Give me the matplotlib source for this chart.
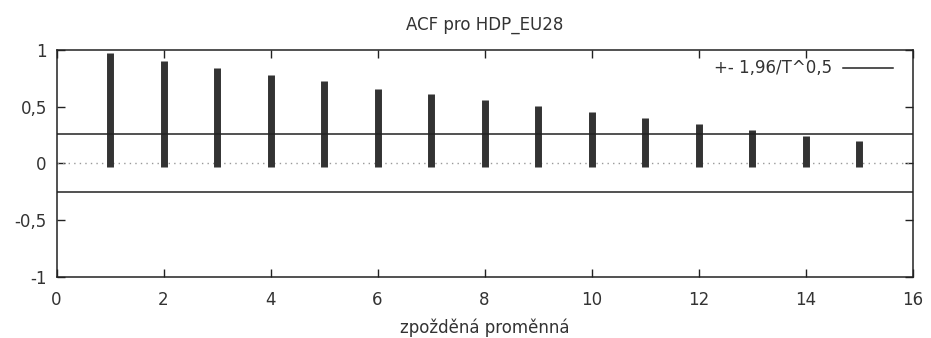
import matplotlib.pyplot as plt
import numpy as np

# hodnoty ACF
lags = [1, 2, 3, 4, 5, 6, 7, 8, 9, 10, 11, 12, 13, 14, 15]
acf_values = [0.976, 0.906, 0.842, 0.778, 0.725, 0.66, 0.608, 0.555,
              0.503, 0.45, 0.397, 0.345, 0.292, 0.237, 0.199]
conf_band = 0.257
x_ticks = [0, 2, 4, 6, 8, 10, 12, 14, 16]
y_ticks = [-1, -0.5, 0, 0.5, 1]
y_tick_labels = ['-1', '-0,5', '0', '0,5', '1']

plt.rcParams['font.family'] = ['DejaVu Sans']
plt.rcParams['font.size'] = 12

fig = plt.figure(figsize=(9.31, 3.38), dpi=100)
ax = fig.add_axes([0.0607, 0.1814, 0.9196, 0.6706])

# nulova cara (teckovana)
ax.plot([0, 16], [0, 0], color='#999999', linestyle=(0, (1, 3)), linewidth=1)

# sloupce ACF
ax.vlines(lags, -0.03, acf_values, color='#333333', linewidth=5.0)

# pasmo spolehlivosti
ax.axhline(conf_band, color='#222222', linewidth=1.1, label='+- 1,96/T^0,5')
ax.axhline(-conf_band, color='#222222', linewidth=1.1)

ax.set_xlim(0, 16)
ax.set_ylim(-1, 1)
ax.set_xticks(x_ticks)
ax.set_yticks(y_ticks)
ax.set_yticklabels(y_tick_labels)
ax.tick_params(direction='in', length=6, width=1, top=True, right=True,
               colors='#222222', labelcolor='#333333', labelsize=12)
ax.tick_params(axis='x', pad=10.5)
ax.tick_params(axis='y', pad=7)
for s in ax.spines.values():
    s.set_linewidth(1.1)
    s.set_color('#222222')

ax.set_title('ACF pro HDP_EU28', fontsize=12, color='#333333', pad=14.5)
ax.set_xlabel('zpožděná proměnná', fontsize=12, color='#333333', labelpad=7)

leg = ax.legend(loc='center right', bbox_to_anchor=(0.9766, 0.919),
                frameon=False, markerfirst=False, borderpad=0, borderaxespad=0,
                handlelength=3.0, handletextpad=0.65, fontsize=12)
for t in leg.get_texts():
    t.set_color('#333333')

fig.savefig('out.png', dpi=100)
